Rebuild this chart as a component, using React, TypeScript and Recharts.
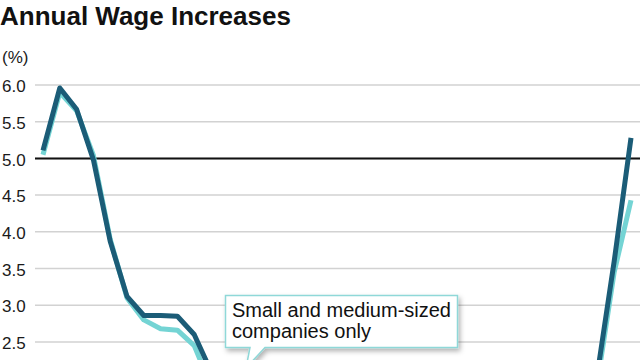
import React from "react"
import { CartesianGrid, Line, LineChart, ReferenceLine, XAxis, YAxis } from "recharts"

const years = [
  1989, 1990, 1991, 1992, 1993, 1994, 1995, 1996, 1997, 1998, 1999, 2000, 2001, 2002, 2003, 2004, 2005, 2006,
  2007, 2008, 2009, 2010, 2011, 2012, 2013, 2014, 2015, 2016, 2017, 2018, 2019, 2020, 2021, 2022, 2023, 2024,
]

// all companies (dark line)
const allCompanies = [
  5.11, 5.96, 5.67, 4.98, 3.87, 3.12, 2.86, 2.86, 2.85, 2.6, 2.1, 2.06, 2.01, 1.66, 1.63, 1.67, 1.71, 1.79, 1.87,
  1.99, 1.83, 1.82, 1.83, 1.78, 1.8, 2.07, 2.18, 2.0, 1.98, 2.07, 2.07, 1.9, 1.78, 2.07, 3.6, 5.28,
]

// small and medium-sized companies (light line)
const smallMedium = [
  5.05, 5.9, 5.65, 5.04, 3.9, 3.1, 2.8, 2.68, 2.66, 2.45, 1.9, 1.8, 1.75, 1.4, 1.4, 1.45, 1.5, 1.55, 1.6, 1.65,
  1.55, 1.55, 1.55, 1.5, 1.5, 1.75, 1.85, 1.8, 1.85, 1.9, 1.8, 1.8, 1.75, 1.95, 3.45, 4.43,
]

const yTicks = [2.5, 3.0, 3.5, 4.0, 4.5, 5.0, 5.5, 6.0]

const data = years.map((year, i) => ({ year, all: allCompanies[i], sme: smallMedium[i] }))

const font = "'Liberation Sans', Arial, Helvetica, sans-serif"
const DARK = "#1b5c77"
const LIGHT = "#74d4d4"

function TickLabel({ y, payload }: any) {
  return (
    <text x={2} y={y} dy="0.42em" textAnchor="start" fontSize={17} fontFamily={font} fill="#1a1a1a">
      {Number(payload.value).toFixed(1)}
    </text>
  )
}

export default function App() {
  return (
    <div
      style={{
        position: "fixed",
        top: 0,
        left: 0,
        width: 640,
        height: 360,
        overflow: "hidden",
        background: "#fff",
        fontFamily: font,
      }}
    >
      <div style={{ position: "absolute", left: 0, top: 3, fontSize: 26, lineHeight: "26px", fontWeight: 700, color: "#111" }}>
        Annual Wage Increases
      </div>
      <div style={{ position: "absolute", left: 2, top: 49, fontSize: 17, lineHeight: "17px", color: "#1a1a1a" }}>(%)</div>

      <div style={{ position: "absolute", left: 0, top: 0 }}>
        <LineChart width={640} height={460} data={data} margin={{ top: 85, right: 0, bottom: 8, left: 0 }}>
          <CartesianGrid vertical={false} stroke="#d2d2d2" strokeWidth={1.5} />
          <XAxis dataKey="year" hide padding={{ left: 8, right: 9 }} />
          <YAxis
            domain={[1, 6]}
            ticks={yTicks}
            allowDataOverflow
            width={35}
            axisLine={false}
            tickLine={false}
            tick={<TickLabel />}
            interval={0}
          />
          <ReferenceLine y={5} stroke="#111" strokeWidth={2} />
          <Line
            type="linear"
            dataKey="sme"
            stroke={LIGHT}
            strokeWidth={5}
            dot={false}
            strokeLinejoin="round"
            isAnimationActive={false}
          />
          <Line
            type="linear"
            dataKey="all"
            stroke={DARK}
            strokeWidth={5}
            dot={false}
            strokeLinejoin="round"
            isAnimationActive={false}
          />
        </LineChart>
      </div>

      <svg style={{ position: "absolute", left: 0, top: 0 }} width={640} height={360}>
        <defs>
          <filter id="shadow" x="-10%" y="-20%" width="130%" height="160%">
            <feDropShadow dx="2" dy="3" stdDeviation="2.5" floodColor="#000" floodOpacity="0.3" />
          </filter>
        </defs>
        <g filter="url(#shadow)">
          <path
            d="M225.5 295.5 H457.5 V347.5 H265 L246 368 L250 347.5 H225.5 Z"
            fill="#fff"
            stroke="#8fd8d8"
            strokeWidth={1.5}
          />
        </g>
        <text x={232} y={317} fontSize={20} fontFamily={font} fill="#111">
          Small and medium-sized
        </text>
        <text x={232} y={338} fontSize={20} fontFamily={font} fill="#111">
          companies only
        </text>
      </svg>
    </div>
  )
}
